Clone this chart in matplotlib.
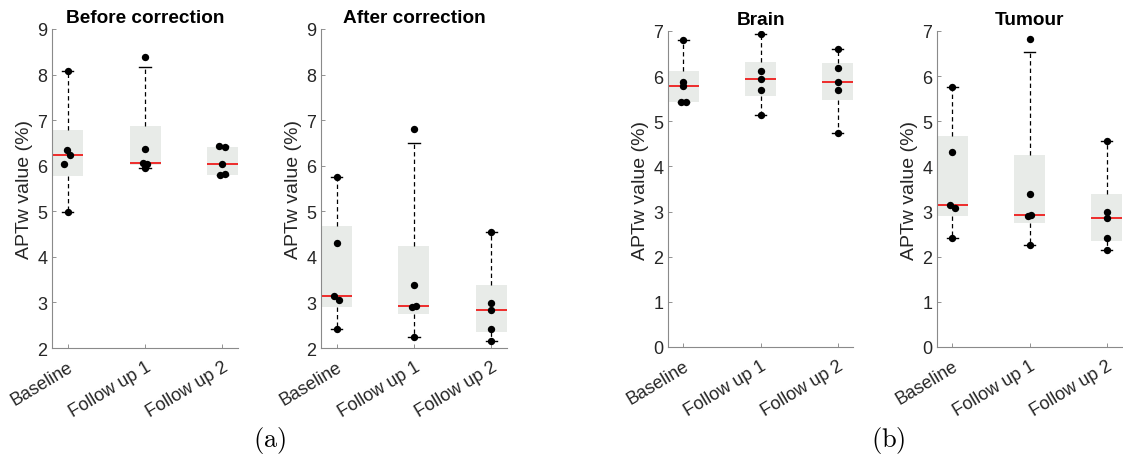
import numpy as np
import matplotlib
matplotlib.use("Agg")
import matplotlib.pyplot as plt

plt.rcParams['font.family'] = ['Liberation Sans', 'DejaVu Sans']

# ---------------- data ----------------
categories = ["Baseline", "Follow up 1", "Follow up 2"]

before_baseline = [8.07, 6.35, 6.24, 6.03, 4.99]
before_fu1 = [8.39, 6.37, 6.05, 6.04, 5.94]
before_fu2 = [6.44, 6.40, 6.03, 5.79, 5.81]

after_baseline = [5.75, 4.31, 3.14, 3.06, 2.42]
after_fu1 = [6.81, 3.39, 2.90, 2.92, 2.25]
after_fu2 = [4.55, 2.99, 2.84, 2.41, 2.15]

brain_baseline = [6.80, 5.88, 5.78, 5.43, 5.42]
brain_fu1 = [6.93, 6.12, 5.94, 5.69, 5.15]
brain_fu2 = [6.61, 6.19, 5.88, 5.70, 4.75]

tumour_baseline = [5.77, 4.32, 3.14, 3.07, 2.42]
tumour_fu1 = [6.83, 3.40, 2.90, 2.92, 2.25]
tumour_fu2 = [4.56, 3.00, 2.85, 2.41, 2.15]

# small horizontal jitter of the dots (category units)
jit_before = [[0, -0.01, 0.03, -0.04, 0], [0, 0, -0.03, 0.02, 0], [-0.04, 0.03, 0, -0.03, 0.03]]
jit_after = [[0, 0, -0.03, 0.035, 0], [0, 0, -0.02, 0.02, 0], [0, 0, 0, 0, 0]]
jit_brain = [[0, 0, 0, -0.03, 0.03], [0, 0, 0, 0, 0], [0, 0, 0, 0, 0]]

titles = ["Before correction", "After correction", "Brain", "Tumour"]
ylabel = "APTw value (%)"
yticks_ab = [2, 3, 4, 5, 6, 7, 8, 9]
yticks_cd = [0, 1, 2, 3, 4, 5, 6, 7]

panels = [
    (titles[0], [before_baseline, before_fu1, before_fu2], jit_before, yticks_ab),
    (titles[1], [after_baseline, after_fu1, after_fu2], jit_after, yticks_ab),
    (titles[2], [brain_baseline, brain_fu1, brain_fu2], jit_brain, yticks_cd),
    (titles[3], [tumour_baseline, tumour_fu1, tumour_fu2], jit_after, yticks_cd),
]


def prctile(x, p):
    # MATLAB-style percentile
    x = np.sort(np.asarray(x, float))
    n = len(x)
    pos = n * p / 100.0 + 0.5
    pos = min(max(pos, 1.0), float(n))
    lo = int(np.floor(pos))
    hi = min(lo + 1, n)
    frac = pos - lo
    return x[lo - 1] + frac * (x[hi - 1] - x[lo - 1])


def stats(vals, label):
    q1 = prctile(vals, 25)
    q3 = prctile(vals, 75)
    med = float(np.median(vals))
    iqr = q3 - q1
    return dict(med=med, q1=q1, q3=q3,
                whislo=max(min(vals), q1 - 1.5 * iqr),
                whishi=min(max(vals), q3 + 1.5 * iqr),
                fliers=[], label=label)


W, H = 1123, 464
fig = plt.figure(figsize=(W / 100, H / 100), dpi=100)

lefts = [52, 321, 668, 937]
rights = [238, 507, 853, 1122]
tops = [30, 30, 32, 32]
bottoms = [349, 349, 348, 348]

for i, (title, groups, jits, yt) in enumerate(panels):
    ax = fig.add_axes([lefts[i] / W, 1 - bottoms[i] / H,
                       (rights[i] - lefts[i]) / W, (bottoms[i] - tops[i]) / H])
    st = [stats(g, c) for g, c in zip(groups, categories)]
    ax.bxp(st, positions=[1, 2, 3], widths=0.4, showfliers=False,
           patch_artist=True, capwidths=0.15,
           boxprops=dict(facecolor='#e8ebe8', edgecolor='none', linewidth=0),
           medianprops=dict(color='#ee1c1c', linewidth=1.3),
           whiskerprops=dict(color='black', linestyle=(0, (3.5, 2.5)), linewidth=0.9),
           capprops=dict(color='black', linewidth=1.0))
    for k, (g, jj) in enumerate(zip(groups, jits)):
        xs = [k + 1 + j for j in jj]
        ax.scatter(xs, g, s=28, color='black', zorder=4, linewidths=0)
    ax.set_xlim(0.8, 3.2)
    ax.set_ylim(yt[0], yt[-1])
    ax.set_yticks(yt)
    ax.set_xticks([1, 2, 3])
    ax.set_xticklabels(categories, rotation=31, ha='right', rotation_mode='anchor')
    ax.tick_params(direction='in', length=3, width=0.6, colors='#808080',
                   labelcolor='#262626', labelsize=13)
    ax.tick_params(axis='x', pad=7, labelsize=13)
    for s in ['top', 'right']:
        ax.spines[s].set_visible(False)
    for s in ['left', 'bottom']:
        ax.spines[s].set_color('#8a8a8a')
        ax.spines[s].set_linewidth(0.8)
    ax.set_ylabel(ylabel, fontsize=14, color='#262626', labelpad=3)
    ax.set_title(title, fontsize=13.7, fontweight='bold', pad=5)

fig.text(270 / W, 1 - 441 / H, r'$\mathrm{(a)}$', math_fontfamily='cm',
         fontsize=19, ha='center', va='center')
fig.text(888 / W, 1 - 441 / H, r'$\mathrm{(b)}$', math_fontfamily='cm',
         fontsize=19, ha='center', va='center')

fig.savefig('out.png', dpi=100)
